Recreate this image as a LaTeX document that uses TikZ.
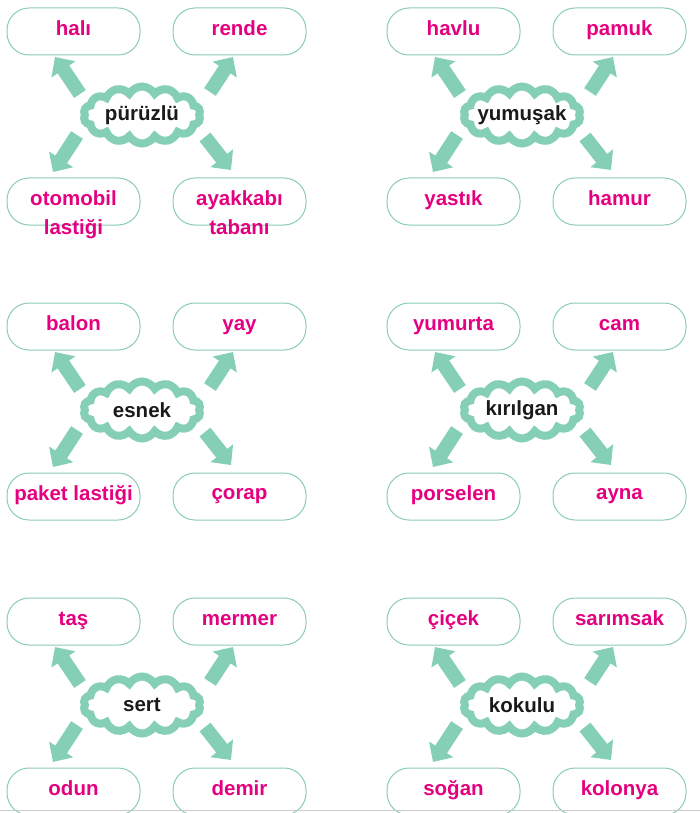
\documentclass[tikz,border=0pt]{standalone}
\usepackage{fontspec}
\setmainfont{Liberation Sans}
\usetikzlibrary{shapes.symbols,arrows.meta,calc}
\definecolor{mint}{HTML}{86CFB7}
\definecolor{boxline}{HTML}{8CCBB7}
\definecolor{mag}{HTML}{E4007F}
\definecolor{ink}{HTML}{1A1A1A}
\tikzset{
 box/.style={draw=boxline, line width=1pt, rounded corners=22pt, minimum width=133pt, minimum height=47pt, inner sep=0pt},
 lbl/.style={anchor=north, inner sep=0pt, align=center, text=mag, font=\fontsize{20.5}{29}\selectfont\bfseries, execute at begin node={\rule{0pt}{14.5pt}}},
 cloudn/.style={cloud, cloud puffs=14, cloud puff arc=120, aspect=2, draw=mint, line width=8pt, fill=white, minimum width=117pt, minimum height=57pt, inner sep=0pt, font=\fontsize{20.5}{24}\selectfont\bfseries, text=ink},
 arr/.style={draw=mint, line width=14pt, -{Triangle[length=15pt,width=28pt]}},
}
\newcommand\panel[8]{%
 \begin{scope}[shift={(#2,#3)}]
  \node[box] (#1tl) at (73.5,31.5) {};
  \node[box] (#1tr) at (239.5,31.5) {};
  \node[box] (#1bl) at (73.5,201.5) {};
  \node[box] (#1br) at (239.5,201.5) {};
  \coordinate (#1s1) at (80,94);  \coordinate (#1e1) at (55,57);
  \coordinate (#1s2) at (210,92); \coordinate (#1e2) at (233,57);
  \coordinate (#1s3) at (77,135); \coordinate (#1e3) at (53,172);
  \coordinate (#1s4) at (205,137);\coordinate (#1e4) at (231,170);
  \draw[arr] (#1s1) -- (#1e1);
  \draw[arr] (#1s2) -- (#1e2);
  \draw[arr] (#1s3) -- (#1e3);
  \draw[arr] (#1s4) -- (#1e4);
  \node[cloudn] (#1c) at (142,115) {\makebox[50pt]{#4}};
  \node[lbl] (#1tlt) at ([yshift=11pt]#1tl.center) {#5};
  \node[lbl] (#1trt) at ([yshift=11pt]#1tr.center) {#6};
  \node[lbl] (#1blt) at ([yshift=11.5pt]#1bl.center) {#7};
  \node[lbl] (#1brt) at ([yshift=11.5pt]#1br.center) {#8};
 \end{scope}}
\begin{document}
\begin{tikzpicture}[x=1pt,y=-1pt]
\useasboundingbox (0,0) rectangle (700,813);
\panel{p}{0}{0}{pürüzlü}{halı}{rende}{otomobil\\lastiği}{ayakkabı\\tabanı}
\panel{q}{380}{0}{yumuşak}{havlu}{pamuk}{yastık}{hamur}
\panel{r}{0}{295}{esnek}{balon}{yay}{paket lastiği}{çorap}
\panel{s}{380}{295}{kırılgan}{yumurta}{cam}{porselen}{ayna}
\panel{t}{0}{590}{sert}{taş}{mermer}{odun}{demir}
\panel{u}{380}{590}{kokulu}{çiçek}{sarımsak}{soğan}{kolonya}
\coordinate (bl0) at (0,810.5);
\coordinate (bl1) at (700,810.5);
\draw[black!20, line width=0.8pt] (bl0) -- (bl1);
\end{tikzpicture}
\end{document}
